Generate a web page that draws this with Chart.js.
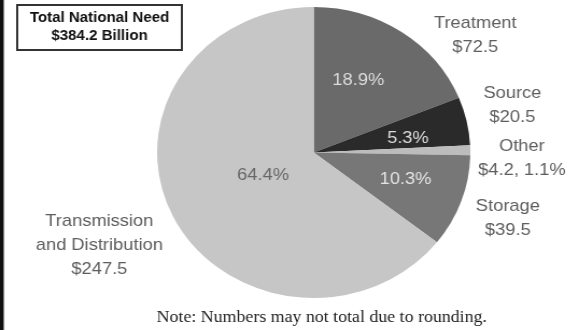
<!DOCTYPE html>
<html>
<head>
<meta charset="utf-8">
<script src="https://cdn.jsdelivr.net/npm/chart.js@4"></script>
<style>
  html, body { margin: 0; padding: 0; background: #fff; overflow: hidden; }
  /* the source picture is slightly stretched sideways, so draw narrow and widen it */
  #wrap { width: 538px; height: 330px; transform: scaleX(1.0762); transform-origin: 0 0; }
</style>
</head>
<body>
<div id="wrap"><canvas id="pieChart"></canvas></div>
<script>
const categories = ['Treatment', 'Source', 'Other', 'Storage', ['Transmission', 'and Distribution']];
const needBillions = [72.5, 20.5, 4.2, 39.5, 247.5];
const sliceColors = ['#6a6a6a', '#2a2a2a', '#bcbcbc', '#777777', '#c6c6c6'];

const total = needBillions.reduce((a, b) => a + b, 0);
const pct = v => (v / total * 100).toFixed(1) + '%';

// label placement around each slice: r = fraction of radius, da = angle nudge (deg)
const innerPos = [{ r: 0.57, da: -4 }, { r: 0.61, da: 3 }, null, { r: 0.615, da: -2 }, { r: 0.36, da: 0 }];
const outerPos = [{ r: 1.31, da: 18 }, { r: 1.31, da: -2 }, { r: 1.33, da: 2.6 }, { r: 1.32, da: 0.5 }, { r: 1.51, da: 1 }];
const innerColors = ['#dcdcdc', '#dcdcdc', null, '#e4e4e4', '#666666'];

const labelsPlugin = {
  id: 'labels',
  beforeDraw(chart) {
    const ctx = chart.ctx;
    ctx.save();
    ctx.fillStyle = '#fff';
    ctx.fillRect(0, 0, chart.width, chart.height);
    ctx.fillStyle = '#111';
    ctx.fillRect(0, 0, 3.5, chart.height);
    ctx.restore();
  },
  afterDraw(chart) {
    const ctx = chart.ctx;
    const arcs = chart.getDatasetMeta(0).data;
    ctx.save();
    ctx.textAlign = 'center';
    ctx.textBaseline = 'middle';
    arcs.forEach((arc, i) => {
      const R = arc.outerRadius;
      const mid = (arc.startAngle + arc.endAngle) / 2;
      const v = needBillions[i];
      const p = innerPos[i];
      if (p) {
        const a = mid + p.da * Math.PI / 180;
        ctx.font = '17px "Liberation Sans", Arial, sans-serif';
        ctx.fillStyle = innerColors[i];
        ctx.fillText(pct(v), arc.x + Math.cos(a) * R * p.r, arc.y + Math.sin(a) * R * p.r);
      }
      const o = outerPos[i];
      const name = [].concat(categories[i]);
      const lines = name.concat(p ? ['$' + v.toFixed(1)] : ['$' + v.toFixed(1) + ', ' + pct(v)]);
      const a = mid + o.da * Math.PI / 180;
      const cx = arc.x + Math.cos(a) * R * o.r;
      const cy = arc.y + Math.sin(a) * R * o.r;
      const lh = 24;
      ctx.font = '17px "Liberation Sans", Arial, sans-serif';
      ctx.fillStyle = '#5e5e5e';
      lines.forEach((t, k) => {
        ctx.fillText(t, cx, cy + (k - (lines.length - 1) / 2) * lh);
      });
    });

    // total box
    ctx.strokeStyle = '#333';
    ctx.lineWidth = 2;
    ctx.strokeRect(16, 5, 153, 45);
    ctx.fillStyle = '#111';
    ctx.font = 'bold 14px "Liberation Sans", Arial, sans-serif';
    ctx.fillText('Total National Need', 92.5, 18);
    ctx.fillText('$' + total.toFixed(1) + ' Billion', 92.5, 36);

    // footnote
    ctx.font = '16.6px "Liberation Serif", "DejaVu Serif", serif';
    ctx.fillStyle = '#222';
    ctx.fillText('Note: Numbers may not total due to rounding.', 299, 318);
    ctx.restore();
  }
};

const ctx = document.getElementById('pieChart').getContext('2d');
new Chart(ctx, {
  type: 'pie',
  data: {
    labels: categories,
    datasets: [{
      data: needBillions,
      backgroundColor: sliceColors,
      borderWidth: 0
    }]
  },
  options: {
    responsive: true,
    maintainAspectRatio: false,
    animation: false,
    layout: { padding: { left: 146, right: 101, top: 7, bottom: 32 } },
    plugins: {
      legend: { display: false },
      tooltip: { enabled: false }
    }
  },
  plugins: [labelsPlugin]
});
</script>
</body>
</html>
